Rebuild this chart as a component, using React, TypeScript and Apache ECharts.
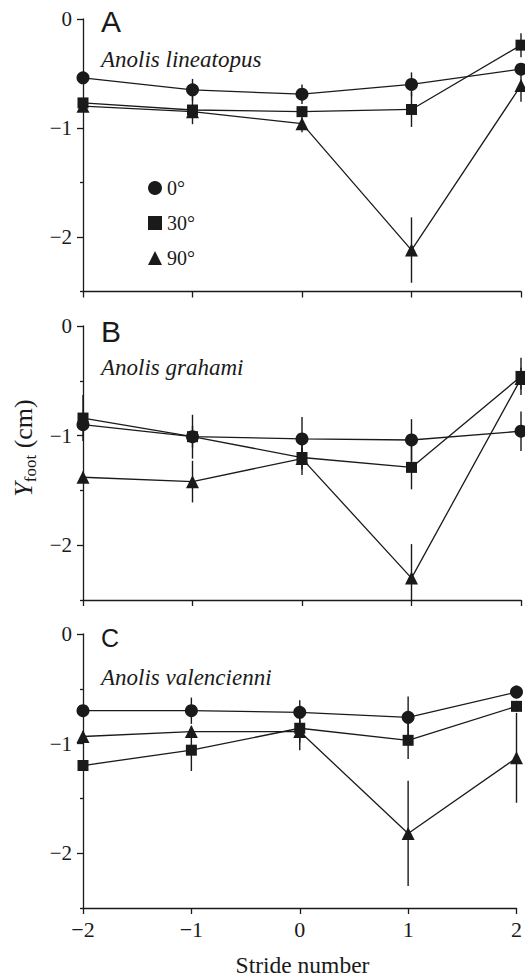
import React, { useEffect, useRef } from 'react';
import * as echarts from 'echarts';

// ---------- data ----------
const strides = [-2, -1, 0, 1, 2];
const xTickValues = [-2, -1, 0, 1, 2];
const xTickLabels = ['−2', '−1', '0', '1', '2'];
const yTickValues = [0, -1, -2];
const yTickLabels = ['0', '−1', '−2'];
const yMinorTickValues = [-0.5, -1.5, -2.5];
const angleNames = ['0°', '30°', '90°'];
const panelLetters = ['A', 'B', 'C'];
const speciesNames = ['Anolis lineatopus', 'Anolis grahami', 'Anolis valencienni'];

// Anolis lineatopus
const lineatopus0 = [-0.54, -0.65, -0.69, -0.6, -0.46];
const lineatopus0Err = [0.03, 0.1, 0.09, 0.11, 0.04];
const lineatopus30 = [-0.77, -0.835, -0.85, -0.83, -0.24];
const lineatopus30Err = [0.03, 0.13, 0.05, 0.16, 0.11];
const lineatopus90 = [-0.8, -0.85, -0.96, -2.12, -0.61];
const lineatopus90Err = [0.03, 0.05, 0.08, 0.3, 0.15];

// Anolis grahami
const grahami0 = [-0.9, -1.01, -1.03, -1.04, -0.96];
const grahami0Err = [0.05, 0.2, 0.2, 0.19, 0.18];
const grahami30 = [-0.84, -1.01, -1.2, -1.29, -0.46];
const grahami30Err = [0.21, 0.1, 0.16, 0.2, 0.17];
const grahami90 = [-1.38, -1.42, -1.21, -2.3, -0.48];
const grahami90Err = [0.05, 0.19, 0.1, 0.31, 0.1];

// Anolis valencienni
const valencienni0 = [-0.7, -0.7, -0.715, -0.76, -0.53];
const valencienni0Err = [0.03, 0.12, 0.11, 0.19, 0.06];
const valencienni30 = [-1.2, -1.06, -0.86, -0.97, -0.66];
const valencienni30Err = [0.05, 0.19, 0.2, 0.17, 0.05];
const valencienni90 = [-0.935, -0.89, -0.89, -1.82, -1.13];
const valencienni90Err = [0.05, 0.05, 0.1, 0.48, 0.41];

const panelMeans = [
  [lineatopus0, lineatopus30, lineatopus90],
  [grahami0, grahami30, grahami90],
  [valencienni0, valencienni30, valencienni90],
];
const panelErrs = [
  [lineatopus0Err, lineatopus30Err, lineatopus90Err],
  [grahami0Err, grahami30Err, grahami90Err],
  [valencienni0Err, valencienni30Err, valencienni90Err],
];

// ---------- styles ----------
const INK = '#1a1a1a';
const SERIF = 'Liberation Serif';
const SANS = 'Liberation Sans';
const Y_MIN = -2.5;
const symbols = ['circle', 'rect', 'triangle'];
const symbolSizes = [13, 11, 13];
const gridTops = [19, 326, 634];
const gridHeights = [272.5, 274, 274];
const letterY = [21, 331, 638];
const letterSizes = [30, 30, 25];
const speciesY = [59, 367, 677];

export default function App() {
  const ref = useRef<HTMLDivElement>(null);

  useEffect(() => {
    if (!ref.current) return;
    const chart = echarts.init(ref.current, undefined, { renderer: 'svg' });

    const grids: any[] = [];
    const xAxes: any[] = [];
    const yAxes: any[] = [];
    const series: any[] = [];

    for (let p = 0; p < 3; p++) {
      grids.push({ left: 83, right: 4, top: gridTops[p], height: gridHeights[p] });
      xAxes.push({
        gridIndex: p,
        type: 'value',
        min: -2,
        max: 2,
        interval: 1,
        axisLine: { show: true, onZero: false, lineStyle: { color: INK, width: 1.3 } },
        axisTick: { show: true, length: 6, lineStyle: { color: INK, width: 1.3 } },
        axisLabel: {
          show: p === 2,
          margin: 10,
          fontFamily: SERIF,
          fontSize: 22,
          color: INK,
          formatter: (v: number) => {
            const i = xTickValues.indexOf(Math.round(v));
            return i >= 0 ? xTickLabels[i] : '';
          },
        },
        splitLine: { show: false },
      });
      yAxes.push({
        gridIndex: p,
        type: 'value',
        min: Y_MIN,
        max: 0,
        interval: 0.5,
        position: 'left',
        axisLine: { show: true, onZero: false, lineStyle: { color: INK, width: 1.3 } },
        axisTick: { show: true, length: 6, customValues: yTickValues, lineStyle: { color: INK, width: 1.3 } },
        axisLabel: {
          show: true,
          customValues: yTickValues,
          margin: 11,
          fontFamily: SERIF,
          fontSize: 21,
          color: INK,
          formatter: (v: number) => {
            if (Math.abs(v - Math.round(v)) > 1e-9) return '';
            const i = yTickValues.indexOf(Math.round(v));
            return i >= 0 ? yTickLabels[i] : '';
          },
        },
        splitLine: { show: false },
      });
      yAxes.push({
        gridIndex: p,
        type: 'value',
        min: Y_MIN,
        max: 0,
        interval: 0.5,
        position: 'left',
        axisLine: { show: false, onZero: false },
        axisTick: { show: true, length: 3, customValues: yMinorTickValues, lineStyle: { color: INK, width: 1.3 } },
        axisLabel: { show: false },
        splitLine: { show: false },
      });

      for (let s = 2; s >= 0; s--) {
        const means = panelMeans[p][s];
        const errs = panelErrs[p][s];
        const bars = strides.map((x, i) => [
          x,
          Math.max(Y_MIN, means[i] - errs[i]),
          Math.min(0, means[i] + errs[i]),
        ]);
        series.push({
          type: 'custom',
          xAxisIndex: p,
          yAxisIndex: p * 2,
          silent: true,
          z: 1,
          encode: { x: 0, y: [1, 2] },
          data: bars,
          renderItem: (_params: any, api: any) => {
            const x = api.value(0);
            const lo = api.value(1);
            const hi = api.value(2);
            const a = api.coord([x, hi]);
            const b = api.coord([x, lo]);
            return {
              type: 'line',
              shape: { x1: a[0], y1: a[1], x2: b[0], y2: b[1] },
              style: { stroke: INK, lineWidth: 1.4 },
            };
          },
        });
        series.push({
          type: 'line',
          name: angleNames[s],
          xAxisIndex: p,
          yAxisIndex: p * 2,
          z: 3,
          clip: false,
          symbol: symbols[s],
          symbolSize: symbolSizes[s],
          showAllSymbol: true,
          itemStyle: { color: INK },
          lineStyle: { color: INK, width: 1.3 },
          data: strides.map((x, i) => [x, means[i]]),
        });
      }
    }

    const graphics: any[] = [];
    for (let p = 0; p < 3; p++) {
      graphics.push({
        type: 'text',
        x: 101,
        y: letterY[p],
        style: {
          text: panelLetters[p],
          fontFamily: SANS,
          fontSize: letterSizes[p],
          fill: INK,
          verticalAlign: 'middle',
        },
      });
      graphics.push({
        type: 'text',
        x: 101,
        y: speciesY[p],
        style: {
          text: speciesNames[p],
          fontFamily: SERIF,
          fontStyle: 'italic',
          fontSize: 23,
          fill: INK,
          verticalAlign: 'middle',
        },
      });
    }
    graphics.push({
      type: 'text',
      x: 23,
      y: 448,
      rotation: Math.PI / 2,
      style: {
        text: '{i|Y}{s|foot}{n| (cm)}',
        align: 'center',
        verticalAlign: 'middle',
        rich: {
          i: { fontFamily: SERIF, fontStyle: 'italic', fontSize: 26, fill: INK },
          s: { fontFamily: SERIF, fontSize: 17, fill: INK, padding: [14, 0, 0, 0] },
          n: { fontFamily: SERIF, fontSize: 26, fill: INK },
        },
      },
    });
    graphics.push({
      type: 'text',
      x: 302.5,
      y: 965,
      style: {
        text: 'Stride number',
        fontFamily: SERIF,
        fontSize: 23.5,
        fill: INK,
        align: 'center',
        verticalAlign: 'middle',
      },
    });

    chart.setOption({
      animation: false,
      backgroundColor: '#ffffff',
      grid: grids,
      xAxis: xAxes,
      yAxis: yAxes,
      legend: {
        orient: 'vertical',
        left: 143,
        top: 173,
        itemWidth: 14,
        itemHeight: 14,
        itemGap: 15,
        selectedMode: false,
        data: [
          { name: angleNames[0], icon: 'circle' },
          { name: angleNames[1], icon: 'rect' },
          { name: angleNames[2], icon: 'triangle' },
        ],
        textStyle: { fontFamily: SERIF, fontSize: 20, color: INK },
        itemStyle: { color: INK },
      },
      graphic: graphics,
      series,
    });

    return () => chart.dispose();
  }, []);

  return (
    <div
      ref={ref}
      style={{ position: 'absolute', left: 0, top: 0, width: 525, height: 978, background: '#fff' }}
    />
  );
}
